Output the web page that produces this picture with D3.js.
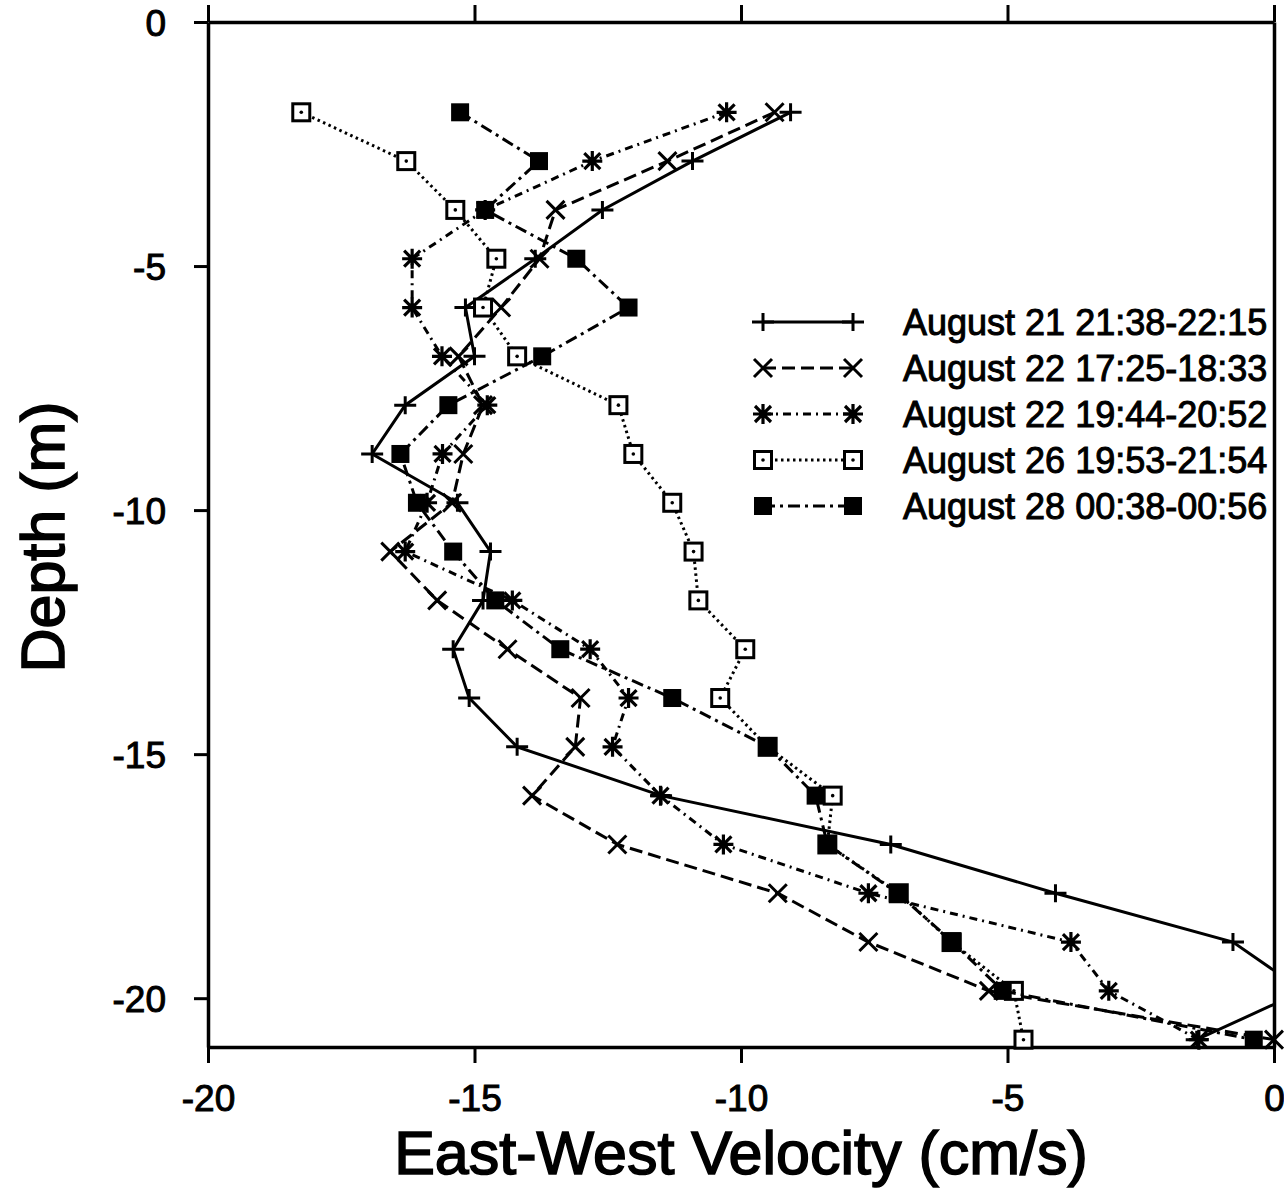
<!DOCTYPE html>
<html>
<head>
<meta charset="utf-8">
<script src="https://cdn.jsdelivr.net/npm/d3@7"></script>
<style>
  body { margin: 0; background: #fff; }
  text { font-family: "Liberation Sans", Arial, sans-serif; fill: #000; }
</style>
</head>
<body>
<div id="velocityProfile"></div>
<script>

// depth bins (m)
var depths = [-1.85, -2.85, -3.85, -4.85, -5.85, -6.85, -7.85, -8.85, -9.85, -10.85,
  -11.85, -12.85, -13.85, -14.85, -15.85, -16.85, -17.85, -18.85, -19.85, -20.85]

// east-west velocity (cm/s) per profile
var aug21 = [-9.07, -10.91, -12.6, -13.86, -15.17, -15.0, -16.3, -16.92, -15.32, -14.7,
  -14.84, -15.4, -15.1, -14.2, -11.5, -7.19, -4.1, -0.77, 0.55, -1.45]
var aug22a = [-9.37, -11.38, -13.48, -13.78, -14.5, -15.3, -14.84, -15.21, -15.42, -16.58,
  -15.7, -14.38, -13.01, -13.11, -13.92, -12.32, -9.31, -7.61, -5.35, 0.0]
var aug22b = [-10.27, -12.79, -14.8, -16.17, -16.17, -15.61, -14.76, -15.6, -15.89, -16.3,
  -14.29, -12.83, -12.11, -12.41, -11.51, -10.33, -7.61, -3.81, -3.1, -1.41]
var aug26 = [-18.25, -16.28, -15.36, -14.59, -14.84, -14.2, -12.3, -12.02, -11.29, -10.89,
  -10.8, -9.92, -10.39, -9.5, -8.28, -8.38, -7.04, -6.05, -4.88, -4.7]
var aug28 = [-15.27, -13.79, -14.8, -13.09, -12.11, -13.73, -15.49, -16.39, -16.08, -15.4,
  -14.61, -13.39, -11.29, -9.5, -8.6, -8.38, -7.06, -6.03, -5.09, -0.38]

var labels = ["August 21 21:38-22:15", "August 22 17:25-18:33", "August 22 19:44-20:52",
  "August 26 19:53-21:54", "August 28 00:38-00:56"]

var xTicks = [-20, -15, -10, -5, 0]
var yTicks = [0, -5, -10, -15, -20]

var series = [
  { name: labels[0], values: aug21, marker: "plus", dash: null },
  { name: labels[1], values: aug22a, marker: "cross", dash: "13,6" },
  { name: labels[2], values: aug22b, marker: "star", dash: "8,5,2,5" },
  { name: labels[3], values: aug26, marker: "open", dash: "2.5,3.5" },
  { name: labels[4], values: aug28, marker: "filled", dash: "12,5,3,5" }
]

var W = 1284, H = 1192
var plot = { left: 208, right: 1274, top: 22, bottom: 1047 }

var svg = d3.select("#velocityProfile")
  .append("svg")
  .attr("width", W)
  .attr("height", H)
  .style("display", "block")

svg.append("rect").attr("width", W).attr("height", H).attr("fill", "#fff")

var x = d3.scaleLinear().domain([-20, 0]).range([plot.left, plot.right])
var y = d3.scaleLinear().domain([0, -21]).range([plot.top, plot.bottom])

var fmt = function(d) { return String(d) }

// axes
function styleAxis(g) {
  g.selectAll("path.domain").attr("stroke", "#000").attr("stroke-width", 3.5)
  g.selectAll(".tick line").attr("stroke", "#000").attr("stroke-width", 3)
  g.selectAll(".tick text")
    .style("font-size", "37px")
    .attr("fill", "#000")
    .attr("stroke", "#000")
    .attr("stroke-width", 1)
}

svg.append("g")
  .attr("transform", "translate(" + plot.left + ",0)")
  .call(d3.axisLeft(y).tickValues(yTicks).tickFormat(fmt).tickSize(14).tickSizeOuter(0).tickPadding(28))
  .call(styleAxis)
  .selectAll(".tick text").attr("dy", "0.36em")

svg.append("g")
  .attr("transform", "translate(0," + plot.bottom + ")")
  .call(d3.axisBottom(x).tickValues(xTicks).tickFormat(fmt).tickSize(16).tickSizeOuter(0).tickPadding(22))
  .call(styleAxis)

svg.append("g")
  .attr("transform", "translate(0," + plot.top + ")")
  .call(d3.axisTop(x).tickValues(xTicks).tickFormat("").tickSize(17).tickSizeOuter(0))
  .call(styleAxis)

svg.append("g")
  .attr("transform", "translate(" + plot.right + ",0)")
  .call(d3.axisRight(y).tickValues([]).tickSizeOuter(0))
  .call(styleAxis)

// axis titles
svg.append("text")
  .attr("x", (plot.left + plot.right) / 2 + 0)
  .attr("y", 1174)
  .attr("text-anchor", "middle")
  .style("font-size", "61px")
  .attr("stroke", "#000").attr("stroke-width", 1.6)
  .text("East-West Velocity (cm/s)")

svg.append("text")
  .attr("transform", "translate(64,537) rotate(-90)")
  .attr("text-anchor", "middle")
  .style("font-size", "61px")
  .attr("stroke", "#000").attr("stroke-width", 1.6)
  .text("Depth (m)")

// clip for the lines
svg.append("clipPath").attr("id", "plotClip")
  .append("rect")
  .attr("x", plot.left).attr("y", plot.top)
  .attr("width", plot.right - plot.left).attr("height", plot.bottom - plot.top)

function drawMarker(g, type, cx, cy) {
  var m = g.append("g").attr("transform", "translate(" + cx + "," + cy + ")")
  if (type == "plus") {
    m.append("path").attr("d", "M-11,0H11M0,-9V9")
      .attr("stroke", "#000").attr("stroke-width", 3).attr("fill", "none")
  } else if (type == "cross") {
    m.append("path").attr("d", "M-9,-9L9,9M-9,9L9,-9")
      .attr("stroke", "#000").attr("stroke-width", 3).attr("fill", "none")
  } else if (type == "star") {
    m.append("path").attr("d", "M-8,-8L8,8M-8,8L8,-8M-10,0H10M0,-10V10")
      .attr("stroke", "#000").attr("stroke-width", 3.2).attr("fill", "none")
  } else if (type == "open") {
    m.append("rect").attr("x", -8.5).attr("y", -8.5).attr("width", 17).attr("height", 17)
      .attr("fill", "#fff").attr("stroke", "#000").attr("stroke-width", 3)
    m.append("circle").attr("r", 1.8).attr("fill", "#000")
  } else {
    m.append("rect").attr("x", -9).attr("y", -9).attr("width", 18).attr("height", 18)
      .attr("fill", "#000")
  }
}

var line = d3.line()
  .x(function(d) { return x(d.v) })
  .y(function(d) { return y(d.depth) })

// profiles
series.forEach(function(s) {
  var pts = s.values.map(function(v, i) { return { v: v, depth: depths[i] } })

  svg.append("path")
    .datum(pts)
    .attr("clip-path", "url(#plotClip)")
    .attr("d", line)
    .attr("fill", "none")
    .attr("stroke", "#000")
    .attr("stroke-width", 3)
    .attr("stroke-dasharray", s.dash)

  var mg = svg.append("g")
  pts.filter(function(d) { return d.v <= 0 }).forEach(function(d) {
    drawMarker(mg, s.marker, x(d.v), y(d.depth))
  })
})

// legend
var legend = svg.append("g")
series.forEach(function(s, i) {
  var cy = 322 + i * 46
  legend.append("line")
    .attr("x1", 763).attr("x2", 853)
    .attr("y1", cy).attr("y2", cy)
    .attr("stroke", "#000").attr("stroke-width", 2.8)
    .attr("stroke-dasharray", s.dash)
  drawMarker(legend, s.marker, 763, cy)
  drawMarker(legend, s.marker, 853, cy)
  legend.append("text")
    .attr("x", 903)
    .attr("y", cy + 13)
    .style("font-size", "36px")
    .attr("stroke", "#000").attr("stroke-width", 1)
    .text(s.name)
})

</script>
</body>
</html>
